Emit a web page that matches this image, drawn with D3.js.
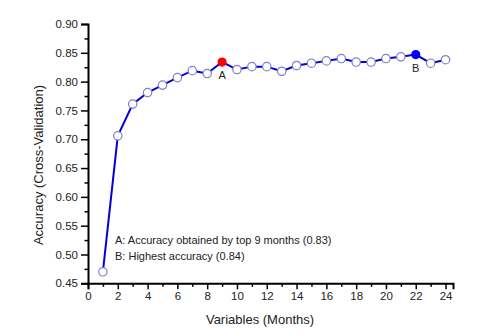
<!DOCTYPE html>
<html><head><meta charset="utf-8">
<script src="https://cdn.jsdelivr.net/npm/d3@7"></script>
<style>body{margin:0;background:#fff}svg{display:block}</style>
</head><body>
<script>
const months = [1,2,3,4,5,6,7,8,9,10,11,12,13,14,15,16,17,18,19,20,21,22,23,24];
const accuracy = [0.470,0.706,0.761,0.781,0.794,0.807,0.819,0.814,0.834,0.821,0.826,0.826,0.818,0.828,0.832,0.836,0.840,0.834,0.834,0.840,0.843,0.847,0.832,0.838];
const xTicks = [0,2,4,6,8,10,12,14,16,18,20,22,24];
const yTicks = [0.45,0.50,0.55,0.60,0.65,0.70,0.75,0.80,0.85,0.90];
const highlights = [{x:9,label:"A",color:"#ff0000"},{x:22,label:"B",color:"#0000ff"}];
const notes = ["A: Accuracy obtained by top 9 months (0.83)","B: Highest accuracy (0.84)"];

const W=485,H=334;
const svg=d3.select("body").append("svg").attr("width",W).attr("height",H);
const x=d3.scaleLinear().domain([0,24.5]).range([88,453]);
const y=d3.scaleLinear().domain([0.45,0.90]).range([283.3,24]);
const font="Arial, 'Liberation Sans', sans-serif";

// x axis
const xa=svg.append("g").attr("transform","translate(0,283.3)");
xa.call(d3.axisBottom(x).tickValues(xTicks).tickFormat(d3.format("d")).tickSize(6).tickPadding(3));
xa.append("g").call(d3.axisBottom(x).tickValues(d3.range(1,25,2)).tickFormat("").tickSize(3.5));
xa.selectAll(".domain").attr("stroke","#000").attr("stroke-width",2);
xa.selectAll("line").attr("stroke","#000").attr("stroke-width",1.5);
xa.selectAll("text").attr("font-family",font).attr("font-size",11.5).attr("fill","#222");
xa.selectAll("g g .domain").remove();

// y axis
const ya=svg.append("g").attr("transform","translate(88,0)");
ya.call(d3.axisLeft(y).tickValues(yTicks).tickFormat(d3.format(".2f")).tickSize(7).tickPadding(3));
ya.append("g").call(d3.axisLeft(y).tickValues(d3.range(0,9).map(i=>0.475+i*0.05)).tickFormat("").tickSize(3.5));
ya.selectAll(".domain").attr("stroke","#000").attr("stroke-width",2);
ya.selectAll("line").attr("stroke","#000").attr("stroke-width",1.5);
ya.selectAll("text").attr("font-family",font).attr("font-size",11.5).attr("fill","#222");
ya.selectAll("g g .domain").remove();

// titles
svg.append("text").attr("x",260).attr("y",324).attr("text-anchor","middle")
  .attr("font-family",font).attr("font-size",13).attr("fill","#222").text("Variables (Months)");
svg.append("text").attr("transform","translate(43,165) rotate(-90)").attr("text-anchor","middle")
  .attr("font-family",font).attr("font-size",13).attr("fill","#222").text("Accuracy (Cross-Validation)");

// line
const data=months.map((m,i)=>({x:m,y:accuracy[i]}));
svg.append("path").datum(data).attr("fill","none").attr("stroke","#0000d8").attr("stroke-width",2)
  .attr("d",d3.line().x(d=>x(d.x)).y(d=>y(d.y)));
const hl=new Map(highlights.map(h=>[h.x,h]));
svg.selectAll("circle.p").data(data).enter().append("circle")
  .attr("cx",d=>x(d.x)).attr("cy",d=>y(d.y))
  .attr("r",d=>hl.has(d.x)?4.0:4.2)
  .attr("fill",d=>hl.has(d.x)?hl.get(d.x).color:"#fff")
  .attr("stroke",d=>hl.has(d.x)?hl.get(d.x).color:"#7f7fc4")
  .attr("stroke-width",1.2);
highlights.forEach(h=>{
  const v=accuracy[months.indexOf(h.x)];
  svg.append("text").attr("x",x(h.x)).attr("y",y(v)+17).attr("text-anchor","middle")
    .attr("font-family",font).attr("font-size",11).attr("fill","#222").text(h.label);
});
notes.forEach((t,i)=>{
  svg.append("text").attr("x",115).attr("y",244+i*16)
    .attr("font-family",font).attr("font-size",11).attr("fill","#222").text(t);
});
</script>
</body></html>
